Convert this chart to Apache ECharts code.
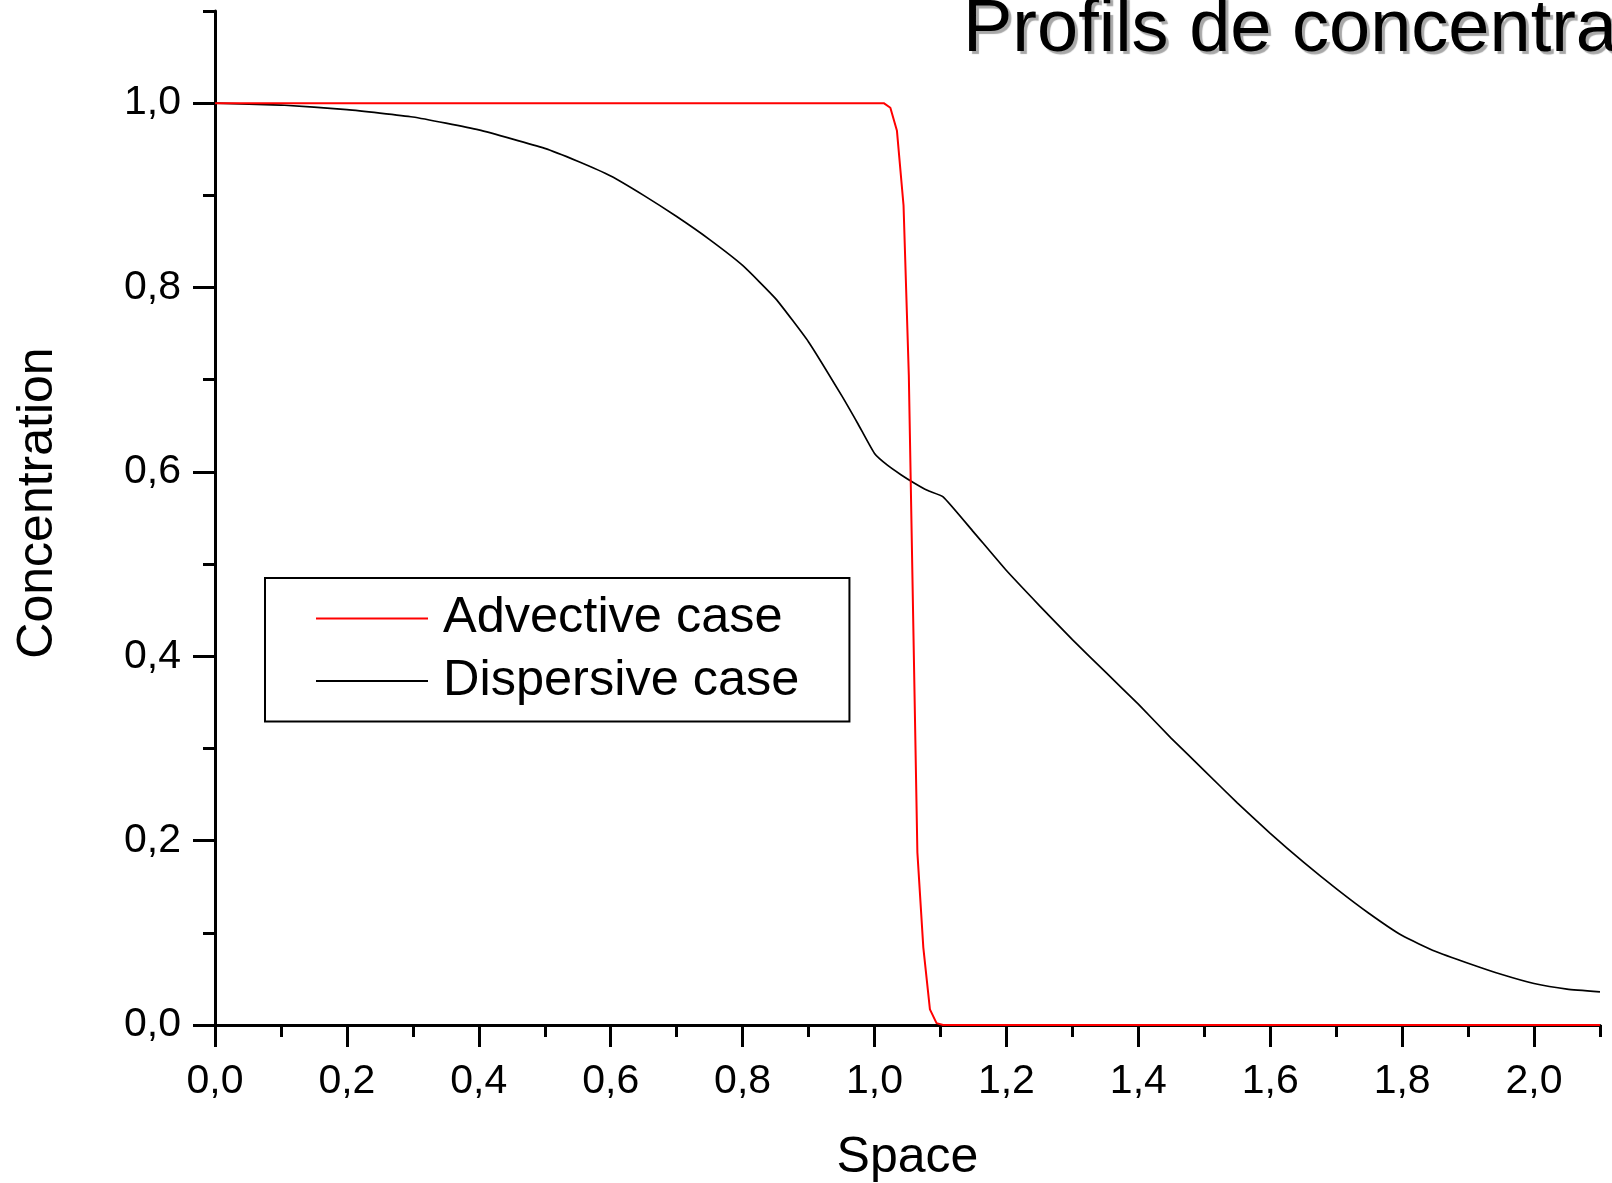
<!DOCTYPE html>
<html><head><meta charset="utf-8">
<script src="https://cdn.jsdelivr.net/npm/echarts@6/dist/echarts.min.js"></script>
<style>html,body{margin:0;padding:0;background:#fff}#c{width:1612px;height:1183px}</style>
</head><body><div id="c"></div>
<script>
const titleText = 'Profils de concentration';
const xName = 'Space';
const yName = 'Concentration';
const seriesNames = ['Advective case', 'Dispersive case'];
const xMajorTicks = [0, 0.2, 0.4, 0.6, 0.8, 1.0, 1.2, 1.4, 1.6, 1.8, 2.0];
const xMinorTicks = [0.1, 0.3, 0.5, 0.7, 0.9, 1.1, 1.3, 1.5, 1.7, 1.9, 2.1];
const yMajorTicks = [0, 0.2, 0.4, 0.6, 0.8, 1.0];
const yMinorTicks = [0.1, 0.3, 0.5, 0.7, 0.9, 1.1];
const advectiveX = [0, 1.014, 1.024, 1.034, 1.044, 1.052, 1.065, 1.074, 1.084, 1.094, 1.104, 2.1];
const advectiveY = [1.0, 1.0, 0.995, 0.970, 0.889, 0.705, 0.187, 0.084, 0.017, 0.002, 0.0, 0.0];
const dispersiveX = [0, 0.1, 0.2, 0.3, 0.4, 0.5, 0.55, 0.6, 0.65, 0.7, 0.75, 0.8, 0.85, 0.9, 0.95, 0.975, 1.0,
  1.02, 1.04, 1.06, 1.08, 1.104, 1.15, 1.2, 1.25, 1.3, 1.35, 1.4, 1.45, 1.5, 1.55, 1.6, 1.65, 1.7,
  1.75, 1.8, 1.85, 1.9, 1.95, 2.0, 2.05, 2.1];
const dispersiveY = [1.0, 0.998, 0.993, 0.985, 0.971, 0.951, 0.937, 0.921, 0.900, 0.877, 0.852, 0.824, 0.788, 0.741, 0.683, 0.652, 0.620,
  0.607, 0.597, 0.588, 0.580, 0.573, 0.535, 0.493, 0.455, 0.418, 0.383, 0.348, 0.311, 0.276, 0.241, 0.208, 0.177, 0.148,
  0.121, 0.097, 0.080, 0.067, 0.055, 0.045, 0.039, 0.036];

const FONT = '"Liberation Sans", Arial, Helvetica, sans-serif';
const fmt = v => Number(v).toFixed(1).replace('.', ',');
const zip = (xs, ys) => xs.map((x, i) => [x, ys[i]]);

const chart = echarts.init(document.getElementById('c'), null, {renderer: 'canvas'});
const majorAxisCommon = {
  type: 'value',
  axisLine: {show: true, onZero: false, lineStyle: {color: '#000', width: 3}},
  splitLine: {show: false},
};
chart.setOption({
  animation: false,
  backgroundColor: '#fff',
  textStyle: {fontFamily: FONT},
  title: {
    text: titleText, left: 963, top: -6, padding: 0,
    textStyle: {fontFamily: FONT, fontSize: 74, fontWeight: 'normal', color: '#000',
      textShadowColor: '#a8a8a8', textShadowOffsetX: 3, textShadowOffsetY: 3, textShadowBlur: 1}
  },
  grid: {left: 215, top: 11, width: 1385, height: 1014, containLabel: false, outerBoundsMode: 'none'},
  legend: {
    data: seriesNames, orient: 'vertical', left: 265, top: 578,
    icon: 'rect', itemWidth: 112, itemHeight: 2, itemGap: 11.5,
    padding: [15, 50, 15, 51],
    borderColor: '#000', borderWidth: 2, backgroundColor: '#fff',
    textStyle: {fontFamily: FONT, fontSize: 50.5, lineHeight: 50, color: '#000', padding: [0, 0, 0, 10]}
  },
  xAxis: [
    Object.assign({}, majorAxisCommon, {
      min: 0, max: 2.1, interval: 0.2, position: 'bottom',
      name: xName, nameLocation: 'middle', nameGap: 108,
      nameTextStyle: {fontFamily: FONT, fontSize: 50, color: '#000'},
      axisTick: {show: true, inside: false, length: 22, lineStyle: {color: '#000', width: 3}, customValues: xMajorTicks},
      axisLabel: {show: true, margin: 36, fontSize: 41, color: '#000', fontFamily: FONT, customValues: xMajorTicks, formatter: fmt}
    }),
    {
      type: 'value', min: 0, max: 2.1, interval: 0.1, position: 'bottom', offset: 0,
      axisLine: {show: false}, splitLine: {show: false}, axisLabel: {show: false},
      axisTick: {show: true, inside: false, length: 12, lineStyle: {color: '#000', width: 3}, customValues: xMinorTicks}
    }
  ],
  yAxis: [
    Object.assign({}, majorAxisCommon, {
      min: 0, max: 1.1, interval: 0.2, position: 'left',
      name: yName, nameLocation: 'middle', nameGap: 152,
      nameTextStyle: {fontFamily: FONT, fontSize: 50, color: '#000', padding: [0, 0, 0, 30]},
      axisTick: {show: true, inside: false, length: 22, lineStyle: {color: '#000', width: 3}, customValues: yMajorTicks},
      axisLabel: {show: true, margin: 34, fontSize: 41, color: '#000', fontFamily: FONT, customValues: yMajorTicks, formatter: fmt}
    }),
    {
      type: 'value', min: 0, max: 1.1, interval: 0.1, position: 'left', offset: 0,
      axisLine: {show: false}, splitLine: {show: false}, axisLabel: {show: false},
      axisTick: {show: true, inside: false, length: 12, lineStyle: {color: '#000', width: 3}, customValues: yMinorTicks}
    }
  ],
  series: [
    {
      name: seriesNames[0], type: 'line', xAxisIndex: 0, yAxisIndex: 0,
      data: zip(advectiveX, advectiveY), symbol: 'none', showSymbol: false,
      lineStyle: {color: '#ff0000', width: 2}, itemStyle: {color: '#ff0000'}, z: 3
    },
    {
      name: seriesNames[1], type: 'line', xAxisIndex: 0, yAxisIndex: 0,
      data: zip(dispersiveX, dispersiveY), symbol: 'none', showSymbol: false, smooth: 0.15,
      lineStyle: {color: '#000', width: 1.7}, itemStyle: {color: '#000'}, z: 2
    }
  ]
});
</script>
</body></html>
